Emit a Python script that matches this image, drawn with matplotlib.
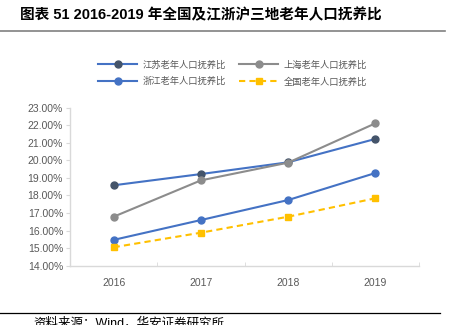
import numpy as np
import matplotlib.pyplot as plt
from matplotlib.lines import Line2D

plt.rcParams['font.family'] = ['Liberation Sans', 'Noto Sans CJK SC', 'DejaVu Sans']

years = ['2016', '2017', '2018', '2019']
jiangsu = [18.58, 19.22, 19.89, 21.22]
shanghai = [16.79, 18.86, 19.87, 22.11]
zhejiang = [15.47, 16.60, 17.74, 19.28]
national = [15.05, 15.88, 16.79, 17.84]
yticks = np.arange(14, 23.5, 1)

W, H = 453, 325
fig = plt.figure(figsize=(W / 100, H / 100), dpi=100)
ax = fig.add_axes([70 / W, 1 - 265.7 / H, 349 / W, 158 / H])

x = np.arange(len(years))
blue = '#4472C4'
ax.plot(x, jiangsu, color=blue, lw=1.5, marker='o', ms=5,
        mfc='#44546A', mec='#44546A', label='江苏老年人口抚养比')
ax.plot(x, shanghai, color='#8C8C8C', lw=1.5, marker='o', ms=5,
        mfc='#8C8C8C', mec='#8C8C8C', label='上海老年人口抚养比')
ax.plot(x, zhejiang, color=blue, lw=1.5, marker='o', ms=5,
        mfc=blue, mec=blue, label='浙江老年人口抚养比')
ax.plot(x, national, color='#FFC000', lw=1.5, ls=(0, (3, 2)), marker='s', ms=5,
        mfc='#FFC000', mec='#FFC000', label='全国老年人口抚养比')

ax.set_xlim(-0.5, 3.5)
ax.set_ylim(14, 23)
ax.set_yticks(yticks)
ax.set_yticklabels(['{:.2f}%'.format(v) for v in yticks])
ax.set_xticks(x)
ax.set_xticklabels(years)
ax.set_xticks(np.arange(-0.5, 3.6, 1), minor=True)
ax.tick_params(axis='x', which='major', length=0, pad=9, labelsize=7.5, labelcolor='#595959')
ax.tick_params(axis='x', which='minor', direction='in', length=3, color='#D9D9D9')
ax.tick_params(axis='y', length=3, color='#D9D9D9', labelsize=7.5, labelcolor='#595959', pad=2)
for s in ['top', 'right']:
    ax.spines[s].set_visible(False)
for s in ['left', 'bottom']:
    ax.spines[s].set_color('#D9D9D9')
    ax.spines[s].set_linewidth(1)

h, l = ax.get_legend_handles_labels()
order = [0, 2, 1, 3]
fig.legend([h[i] for i in order], [l[i] for i in order], ncol=2,
           loc='upper left', bbox_to_anchor=(90 / W, 1 - 52 / H),
           frameon=False, handlelength=4.2, columnspacing=1.4,
           handletextpad=0.6, labelspacing=0.8,
           prop={'family': ['Noto Sans CJK SC'], 'size': 6.7},
           labelcolor='#595959')

fig.text(20 / W, 1 - 15 / H, '图表 51 2016-2019 年全国及江浙沪三地老年人口抚养比',
         fontsize=10.5, fontweight='bold', va='center', ha='left',
         family=['Liberation Sans', 'Noto Sans CJK SC'])
fig.add_artist(Line2D([0, 445 / W], [1 - 31 / H, 1 - 31 / H], color='#808080', lw=1.2))
fig.add_artist(Line2D([0, 440 / W], [1 - 313 / H, 1 - 313 / H], color='#000000', lw=0.9))
fig.text(33 / W, 1 - 317 / H, '资料来源：Wind，华安证券研究所', fontsize=9, va='top',
         ha='left', family=['Liberation Sans', 'Noto Sans CJK SC'])

fig.savefig('out.png', dpi=100)
